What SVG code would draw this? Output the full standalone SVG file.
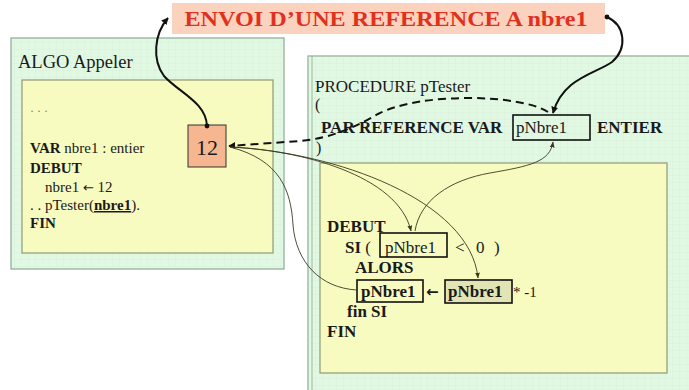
<svg xmlns="http://www.w3.org/2000/svg" width="689" height="390" viewBox="0 0 689 390">
<defs>
<pattern id="grid" width="7" height="7" patternUnits="userSpaceOnUse">
<path d="M7 0H0V7" fill="none" stroke="#c9dcc9" stroke-width="0.5" opacity="0.6"/>
</pattern>
<marker id="ah" viewBox="0 0 10 10" refX="9" refY="5" markerWidth="7" markerHeight="7" orient="auto-start-reverse" markerUnits="userSpaceOnUse">
<path d="M0,0 L10,5 L0,10 z" fill="#111"/>
</marker>
<marker id="ahs" viewBox="0 0 10 10" refX="9" refY="5" markerWidth="6" markerHeight="6" orient="auto-start-reverse" markerUnits="userSpaceOnUse">
<path d="M0,1 L10,5 L0,9 z" fill="#3a3a20"/>
</marker>
<marker id="dot" viewBox="0 0 10 10" refX="5" refY="5" markerWidth="6" markerHeight="6" markerUnits="userSpaceOnUse">
<circle cx="5" cy="5" r="4" fill="#111"/>
</marker>
</defs>
<style>
.outer{fill:#e1f8e2;stroke:#8da895;stroke-width:1.2}
.inner{fill:#f8fbbf;stroke:#8f9a78;stroke-width:1.2}
.t{font-family:"Liberation Serif",serif;fill:#1a1a1a}
.b{font-weight:bold}
.arr{font-family:"DejaVu Sans",sans-serif}
.box{fill:none;stroke:#111;stroke-width:1.6}
.thin{fill:none;stroke:#3a3a20;stroke-width:0.9}
.thick{fill:none;stroke:#111;stroke-width:2}
</style>
<rect width="689" height="390" fill="#fff"/>

<g id="title">
<rect x="172" y="3" width="433" height="31" fill="#fbd2bd"/>
<text class="t b" x="386" y="26" text-anchor="middle" font-size="20" style="fill:#e2301e" textLength="403" lengthAdjust="spacingAndGlyphs">ENVOI D’UNE REFERENCE A  nbre1</text>
</g>

<g id="algo">
<rect class="outer" x="11" y="38" width="273" height="231"/>
<rect x="11" y="38" width="273" height="231" fill="url(#grid)"/>
<rect class="inner" x="22" y="80" width="251" height="173"/>
<text class="t" x="18" y="68" font-size="18.5">ALGO Appeler</text>
<text class="t" x="30" y="115" font-size="12" style="fill:#777">· · ·</text>
<text class="t" x="30" y="153" font-size="15"><tspan class="b">VAR</tspan> nbre1 : entier</text>
<text class="t b" x="30" y="173" font-size="15">DEBUT</text>
<text class="t" x="45" y="192" font-size="15">nbre1 <tspan class="arr" font-size="13">←</tspan> 12</text>
<text class="t" x="30" y="210" font-size="15">. . pTester(<tspan class="b" text-decoration="underline">nbre1</tspan>).</text>
<text class="t b" x="30" y="228" font-size="15">FIN</text>
</g>

<g id="val12">
<rect x="188" y="125" width="38" height="42" fill="#f6b690" stroke="#333" stroke-width="1"/>
<text class="t" x="207" y="155" font-size="22" text-anchor="middle">12</text>
</g>

<g id="procedure">
<rect class="outer" x="308" y="56" width="390" height="340"/>
<rect x="308" y="56" width="390" height="340" fill="url(#grid)"/>
<line x1="312" y1="56" x2="312" y2="390" stroke="#8da895" stroke-width="0.8"/>
<rect class="inner" x="320" y="163" width="347" height="210"/>
<text class="t" x="315" y="92" font-size="17">PROCEDURE pTester</text>
<text class="t" x="315" y="110" font-size="16">(</text>
<text class="t b" x="321" y="133" font-size="17">PAR REFERENCE VAR</text>
<rect class="box" x="513" y="115" width="77" height="25"/>
<text class="t" x="516" y="133" font-size="17">pNbre1</text>
<text class="t b" x="597" y="133" font-size="17">ENTIER</text>
<text class="t" x="316" y="153" font-size="16">)</text>
<text class="t b" x="327" y="232" font-size="17">DEBUT</text>
<text class="t" x="345" y="253" font-size="17"><tspan class="b">SI</tspan> (</text>
<rect class="box" x="380" y="233" width="67" height="24"/>
<text class="t" x="385" y="253" font-size="17">pNbre1</text>
<text class="t" x="455" y="253" font-size="17">&lt;</text>
<text class="t" x="476" y="253" font-size="17">0</text>
<text class="t" x="494" y="253" font-size="17">)</text>
<text class="t b" x="355" y="273" font-size="17">ALORS</text>
<rect class="box" x="357" y="280" width="66" height="22"/>
<text class="t b" x="361" y="297" font-size="17">pNbre1</text>
<text class="t b arr" x="426" y="297" font-size="15">←</text>
<rect class="box" x="445" y="280" width="67" height="23" style="fill:#e3e4b4"/>
<text class="t b" x="448" y="297" font-size="17">pNbre1</text>
<text class="t" x="513" y="297" font-size="15">* -1</text>
<text class="t b" x="347" y="317" font-size="17">fin SI</text>
<text class="t b" x="327" y="337" font-size="17">FIN</text>
</g>

<g id="connectors">
<path class="thick" d="M207,126 C206,102 178,92 164,76 C152,60 154,34 168,18" marker-start="url(#dot)" marker-end="url(#ah)"/>
<path class="thick" d="M607,17 C625,25 628,48 612,62 C595,74 563,78 553,113" marker-start="url(#dot)" marker-end="url(#ah)"/>
<path fill="none" stroke="#111" stroke-width="2" stroke-dasharray="8,5" d="M548,112 C520,94 420,92 378,114 C355,127 332,138 300,141 L229,146" marker-end="url(#ah)"/>
<path class="thin" d="M230,147 C300,150 398,175 411,231" marker-end="url(#ahs)"/>
<path class="thin" d="M230,147 C335,152 470,200 478,278" marker-end="url(#ahs)"/>
<path class="thin" d="M357,290 C320,288 296,262 293,225 C291,190 280,160 230,147"/>
<path class="thin" d="M415,231 C420,200 450,180 490,173 C530,166 550,162 553,142" marker-end="url(#ahs)"/>
</g>
</svg>
